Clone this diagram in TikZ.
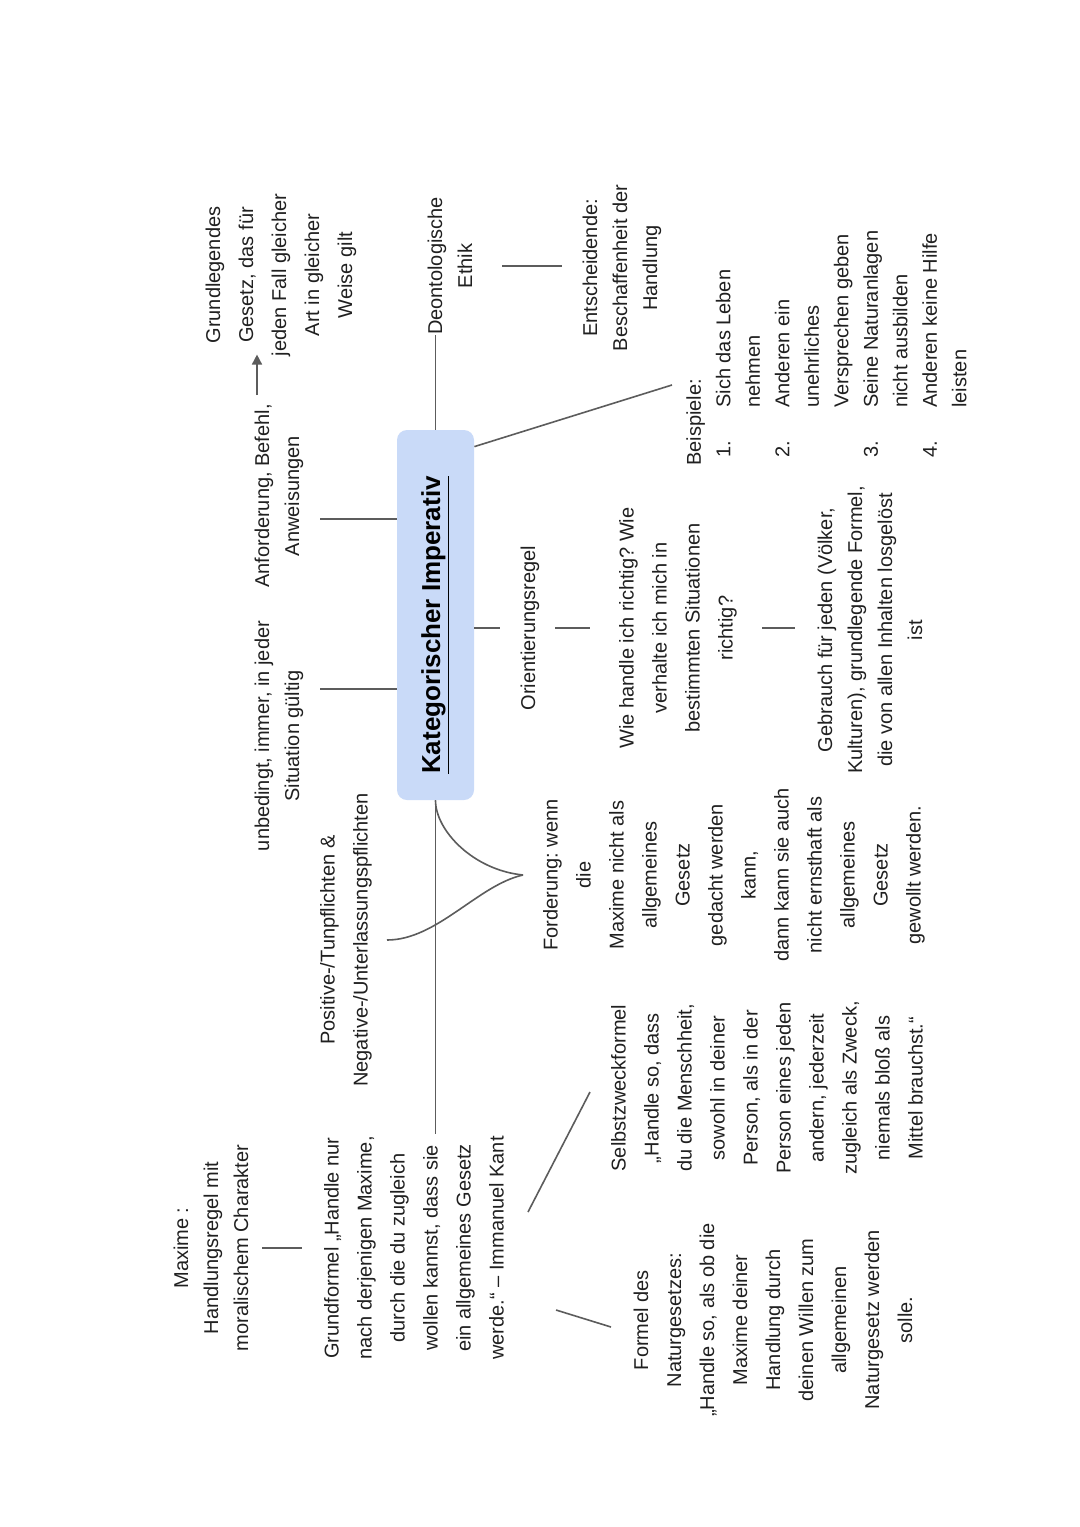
\documentclass[tikz,border=0pt]{standalone}
\usepackage{fontspec}
\setmainfont{Liberation Sans}
\usetikzlibrary{arrows.meta}
\frenchspacing

\definecolor{boxblue}{HTML}{C9DAF8}
\definecolor{inkgray}{HTML}{202020}
\definecolor{linegray}{HTML}{5C5C5C}

\newcommand{\bspnr}[1]{\hspace*{4pt}\makebox[25pt][l]{#1}}
\newcommand{\bspin}{\hspace*{29pt}}

\begin{document}
\begin{tikzpicture}[x=0.5pt, y=-0.5pt,
        txt/.style={rotate=90, align=center, inner sep=0pt, text=inkgray,
                    font=\fontsize{10}{16.5}\selectfont},
        tight/.style={font=\fontsize{10}{15}\selectfont},
        root/.style={rotate=90, fill=boxblue, rounded corners=5pt,
                     minimum width=185pt, minimum height=38.5pt, inner sep=0pt,
                     font=\fontsize{13}{15}\selectfont\bfseries, text=black},
        link/.style={draw=linegray, line width=0.8pt},
        arr/.style={link, -{Triangle[length=5pt, width=5pt]}}
    ]
    \fill[white] (0,0) rectangle (1080,1527);
    \useasboundingbox (0,0) rectangle (1080,1527);

    % centre
    \node[root] (kat) at (435.5,615) {\underline{Kategorischer Imperativ}\hspace*{10pt}};

    % upper side
    \node[txt, tight] (unb) at (279,736) {unbedingt, immer, in jeder\\Situation gültig};
    \node[txt, tight] (anf) at (279,496) {Anforderung, Befehl,\\Anweisungen};
    \node[txt] (grl) at (281,275) {Grundlegendes\\Gesetz, das für\\jeden Fall gleicher\\Art in gleicher\\Weise gilt};
    \node[txt, tight] (deo) at (450,266) {Deontologische\\Ethik};
    \node[txt, tight] (ent) at (622,268) {Entscheidende:\\Beschaffenheit der\\Handlung};
    \node[txt, align=left, anchor=north west, font=\fontsize{10}{14.75}\selectfont] (bsp) at (686,466) {Beispiele:\\
        \bspnr{1.}Sich das Leben\\ \bspin nehmen\\
        \bspnr{2.}Anderen ein\\ \bspin unehrliches\\ \bspin Versprechen geben\\
        \bspnr{3.}Seine Naturanlagen\\ \bspin nicht ausbilden\\
        \bspnr{4.}Anderen keine Hilfe\\ \bspin leisten};

    \coordinate (unb-a) at (320,689);
    \coordinate (anf-a) at (320,519);
    \coordinate (anf-b) at (257,395);
    \draw[link] (unb-a) -- (unb-a -| kat.north);
    \draw[link] (anf-a) -- (anf-a -| kat.north);
    \draw[arr, shorten >=-1pt] (anf-b) -- (anf-b |- grl.west);
    \draw[link] (kat.east) -- (kat.east |- deo.west);
    \coordinate (deo-a) at (502,266);
    \coordinate (ent-a) at (562,266);
    \draw[link] (deo-a) -- (ent-a);
    \coordinate (bsp-a) at (672,385);
    \draw[link] ([yshift=-8.5pt]kat.south east) -- (bsp-a);

    % middle row
    \node[txt] (ori) at (530,628) {Orientierungsregel};
    \node[txt] (wie) at (678,628) {Wie handle ich richtig? Wie\\verhalte ich mich in\\bestimmten Situationen\\richtig?};
    \node[txt, tight] (geb) at (870,630) {Gebrauch für jeden (Völker,\\Kulturen), grundlegende Formel,\\die von allen Inhalten losgelöst\\ist};

    \coordinate (ori-a) at (500,628);
    \coordinate (ori-b) at (555,628);
    \coordinate (wie-a) at (590,628);
    \coordinate (wie-b) at (762,628);
    \coordinate (geb-a) at (795,628);
    \draw[link] (ori-a -| kat.south) -- (ori-a);
    \draw[link] (ori-b) -- (wie-a);
    \draw[link] (wie-b) -- (geb-a);

    % lower side
    \node[txt] (pos) at (346,940) {Positive-/Tunpflichten \&\\Negative-/Unterlassungspflichten};
    \node[txt] (ford) at (734,875) {Forderung: wenn\\die\\Maxime nicht als\\allgemeines\\Gesetz\\gedacht werden\\kann,\\dann kann sie auch\\nicht ernsthaft als\\allgemeines\\Gesetz\\gewollt werden.};
    \node[txt, tight] (max) at (211,1248) {Maxime :\\Handlungsregel mit\\moralischem Charakter};
    \node[txt] (gru) at (414,1248) {Grundformel „Handle nur\\nach derjenigen Maxime,\\durch die du zugleich\\wollen kannst, dass sie\\ein allgemeines Gesetz\\werde.“ – Immanuel Kant};
    \node[txt] (slb) at (767,1088) {Selbstzweckformel\\„Handle so, dass\\du die Menschheit,\\sowohl in deiner\\Person, als in der\\Person eines jeden\\andern, jederzeit\\zugleich als Zweck,\\niemals bloß als\\Mittel brauchst.“};
    \node[txt] (nat) at (773,1320) {Formel des\\Naturgesetzes:\\„Handle so, als ob die\\Maxime deiner\\Handlung durch\\deinen Willen zum\\allgemeinen\\Naturgesetz werden\\solle.};

    \coordinate (ford-a) at (523,875);
    \coordinate (pos-a) at (387,940);
    \coordinate (gru-a) at (433,1134);
    \draw[link] (kat.west) -- (kat.west |- gru-a);
    \draw[link] (kat.west) .. controls +(0,30) and +(-50,-5) .. (ford-a);
    \draw[link] (pos-a) .. controls +(50,0) and +(-45,10) .. (ford-a);

    \coordinate (max-a) at (262,1248);
    \coordinate (gru-b) at (302,1248);
    \draw[link] (max-a) -- (gru-b);
    \coordinate (gru-c) at (528,1212);
    \coordinate (slb-a) at (590,1092);
    \draw[link] (gru-c) -- (slb-a);
    \coordinate (gru-d) at (556,1310);
    \coordinate (nat-a) at (611,1327);
    \draw[link] (gru-d) -- (nat-a);
\end{tikzpicture}
\end{document}
